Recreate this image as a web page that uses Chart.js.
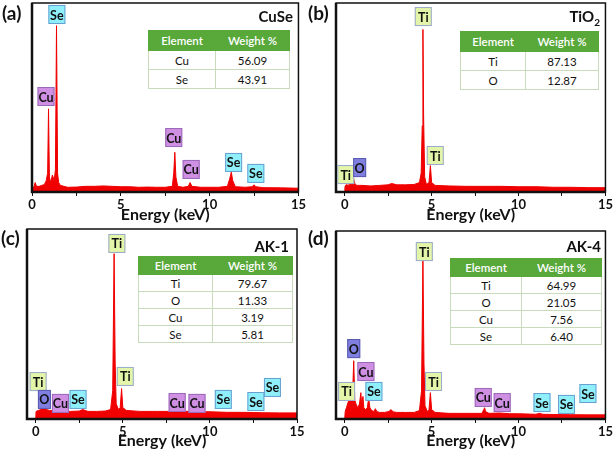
<!DOCTYPE html>
<html>
<head>
<meta charset="utf-8">
<script src="https://cdn.jsdelivr.net/npm/chart.js@4.4.1/dist/chart.umd.min.js"></script>
<style>
  body { margin: 0; width: 614px; height: 451px; overflow: hidden; background: #fff; font-family: Lato, "Open Sans", sans-serif; position: relative; }
  .panel { position: absolute; }
  .letter { position: absolute; font-weight: bold; font-size: 19px; color: #111; }
  .sample { position: absolute; font-weight: bold; font-size: 15px; color: #111; text-align: right; }
  .sample sub { font-size: 10px; }
  table.wt { position: absolute; border-collapse: collapse; font-size: 11.5px; color: #111; background: #fff; }
  table.wt td, table.wt th { border: 1px solid #c8dbbd; text-align: center; padding: 0; }
  table.wt th { background: #58a83a; color: #fff; font-weight: 600; border-color: #58a83a; }
</style>
</head>
<body>
<canvas id="ca" class="panel" width="307" height="225" style="left:0;top:0"></canvas>
<canvas id="cb" class="panel" width="307" height="225" style="left:307px;top:0"></canvas>
<canvas id="cc" class="panel" width="307" height="226" style="left:0;top:225px"></canvas>
<canvas id="cd" class="panel" width="307" height="226" style="left:307px;top:225px"></canvas>
<div id="overlay"></div>
<script>
// EDS spectra: energy (keV) and relative counts (% of plot height)
const energyA = [0, 0.1, 0.18, 0.25, 0.4, 0.55, 0.7, 0.8, 0.88, 0.93, 0.98, 1.05, 1.15, 1.25, 1.32, 1.38, 1.44, 1.5, 1.6, 1.8, 2.0, 2.5, 3.0, 3.5, 4.0, 4.5, 5.0, 5.5, 6.0, 6.5, 7.0, 7.5, 7.9, 7.98, 8.04, 8.1, 8.2, 8.5, 8.8, 8.9, 9.0, 9.5, 10, 10.5, 11.0, 11.13, 11.22, 11.3, 11.45, 12.0, 12.4, 12.5, 12.6, 13, 14, 15];
const countsA = [2, 2.5, 5, 3, 3, 3.5, 4, 6, 10, 44, 8, 5, 9, 6, 12, 88, 10, 5, 3.5, 3, 2.5, 2.6, 3, 3, 3.2, 3, 2.8, 2.8, 2.5, 2.6, 2.5, 2.5, 3, 10, 21, 8, 3, 2.5, 3, 5, 3, 2.5, 2.5, 2.5, 3, 7, 10.5, 6, 2.8, 2.5, 2.8, 3.8, 2.8, 2.3, 2.2, 2];

const energyB = [0, 0.02, 0.1, 0.2, 0.3, 0.4, 0.45, 0.52, 0.58, 0.7, 1.0, 1.5, 2.0, 2.5, 2.7, 3.0, 3.5, 4.0, 4.3, 4.4, 4.46, 4.5, 4.54, 4.6, 4.7, 4.85, 4.93, 5.0, 5.2, 6, 7, 8, 9, 10, 11, 12, 13, 14, 15];
const countsB = [0, 3, 4, 3.5, 4.5, 5, 5.5, 7, 4.5, 3.5, 3.5, 3.2, 3.5, 3.8, 4.5, 3.8, 3.8, 4, 5, 10, 35, 86, 40, 8, 4, 5, 14, 5, 3.5, 3.2, 3, 3, 3, 2.8, 2.8, 2.5, 2.5, 2.3, 2.3];

const energyC = [0, 0.02, 0.15, 0.3, 0.45, 0.52, 0.6, 0.8, 1.0, 1.5, 2.0, 2.5, 2.7, 3.0, 3.5, 4.0, 4.3, 4.42, 4.5, 4.56, 4.62, 4.75, 4.85, 4.93, 5.0, 5.2, 6, 7, 8, 8.05, 9, 10, 11, 12, 13, 14, 15];
const countsC = [0, 4, 4.5, 5, 5.5, 7, 5, 4.5, 4.5, 4, 4, 4.2, 5, 4, 4, 4.2, 5, 15, 87, 30, 8, 5, 6, 16, 6, 4.5, 4, 4, 4, 4.5, 3.8, 3.8, 3.5, 3.5, 3.3, 3.2, 3.2];

const energyD = [0, 0.03, 0.1, 0.2, 0.3, 0.4, 0.45, 0.52, 0.58, 0.65, 0.75, 0.85, 0.93, 0.98, 1.05, 1.1, 1.2, 1.3, 1.38, 1.45, 1.55, 1.7, 1.76, 1.85, 2.0, 2.3, 2.55, 2.65, 2.8, 3.0, 3.5, 4.0, 4.3, 4.42, 4.5, 4.56, 4.62, 4.75, 4.85, 4.93, 5.0, 5.2, 6, 7, 7.9, 8.0, 8.05, 8.1, 8.3, 8.9, 9.5, 10, 11, 11.2, 11.4, 12, 13, 14, 15];
const countsD = [0, 4, 6, 9, 11, 10, 12, 31, 10, 8, 6, 8, 14, 7, 12, 6, 5, 6, 11, 6, 4.5, 4, 5.5, 4, 3.5, 3.5, 4, 5, 3.8, 3.5, 3.5, 3.5, 4.5, 15, 85, 30, 7, 4, 5, 14, 5, 3.5, 3, 3, 3, 5, 6, 4, 3, 3.2, 2.8, 2.8, 2.5, 3, 2.5, 2.4, 2.3, 2.2, 2.2];

// peak tags: [element, energy at box centre, level of box bottom]
const tagsA = [['Se', 1.40, 88.9], ['Cu', 0.79, 45.5], ['Cu', 7.98, 23.8], ['Cu', 8.96, 6.9], ['Se', 11.35, 10.6], ['Se', 12.6, 4.8]];
const tagsB = [['Ti', 4.52, 87.8], ['Ti', 5.21, 14.3], ['Ti', 0.06, 4.2], ['O', 0.86, 7.9]];
const tagsC = [['Ti', 4.66, 87.4], ['Ti', 5.14, 17.4], ['Ti', 0.14, 14.7], ['O', 0.5, 5.3], ['Cu', 1.42, 3.2], ['Se', 2.43, 5.3], ['Cu', 8.12, 3.7], ['Cu', 9.26, 3.2], ['Se', 10.77, 5.3], ['Se', 12.64, 4.2], ['Se', 13.59, 11.6]];
const tagsD = [['Ti', 4.58, 84.0], ['Ti', 5.11, 14.9], ['Ti', 0.11, 9.6], ['O', 0.52, 32.4], ['Cu', 1.22, 20.2], ['Se', 1.68, 9.6], ['Cu', 7.97, 6.4], ['Cu', 9.06, 3.7], ['Se', 11.35, 3.7], ['Se', 12.76, 2.7], ['Se', 13.99, 8.5]];

// composition tables
const elementsA = ['Cu', 'Se'];
const weightA = ['56.09', '43.91'];
const elementsB = ['Ti', 'O'];
const weightB = ['87.13', '12.87'];
const elementsC = ['Ti', 'O', 'Cu', 'Se'];
const weightC = ['79.67', '11.33', '3.19', '5.81'];
const elementsD = ['Ti', 'O', 'Cu', 'Se'];
const weightD = ['64.99', '21.05', '7.56', '6.40'];

const xTicks = [0, 5, 10, 15];

const tagColors = {
  Cu: ['#cf8fe3', '#9a6ab8'],
  Se: ['#8ff0fb', '#6a9fd0'],
  Ti: ['#e3f5a9', '#9aa8cf'],
  O: ['#7f7fe0', '#5b5bb0']
};

const FONT = 'Lato, "Open Sans", sans-serif';

const framePlugin = {
  id: 'frame',
  afterDatasetsDraw(chart) {
    const { ctx, chartArea: a } = chart;
    ctx.save();
    ctx.strokeStyle = '#111';
    ctx.lineWidth = 1.5;
    ctx.strokeRect(a.left, a.top, a.right - a.left, a.bottom - a.top);
    ctx.lineWidth = 2.5;
    ctx.beginPath();
    ctx.moveTo(a.left, a.top);
    ctx.lineTo(a.left, a.bottom);
    ctx.lineTo(a.right, a.bottom);
    ctx.stroke();
    ctx.restore();
  }
};

const tagPlugin = {
  id: 'tags',
  afterDraw(chart, args, opts) {
    const { ctx } = chart;
    const xs = chart.scales.x, ys = chart.scales.y;
    ctx.save();
    ctx.font = 'bold 12.5px ' + FONT;
    ctx.textAlign = 'center';
    ctx.textBaseline = 'middle';
    opts.items.forEach(([el, e, h]) => {
      const cx = xs.getPixelForValue(e);
      const by = ys.getPixelForValue(h);
      const w = el === 'O' ? 13 : 17, bh = 19;
      const c = tagColors[el];
      ctx.fillStyle = c[0];
      ctx.fillRect(cx - w / 2, by - bh, w, bh);
      ctx.strokeStyle = c[1];
      ctx.lineWidth = 1;
      ctx.strokeRect(cx - w / 2 + 0.5, by - bh + 0.5, w - 1, bh - 1);
      ctx.fillStyle = '#111';
      ctx.fillText(el, cx, by - bh / 2 + 1);
    });
    ctx.restore();
  }
};

function makeChart(id, energy, counts, tags, cfg) {
  new Chart(document.getElementById(id), {
    type: 'line',
    data: {
      datasets: [{
        data: energy.map((e, i) => ({ x: e, y: counts[i] })),
        borderColor: '#f00000',
        backgroundColor: '#f00000',
        borderWidth: 1,
        pointRadius: 0,
        tension: 0,
        fill: 'origin'
      }]
    },
    options: {
      responsive: false,
      animation: false,
      devicePixelRatio: 1,
      layout: { padding: { left: cfg.padL, right: cfg.padR, top: cfg.padT, bottom: 0 } },
      plugins: {
        legend: { display: false },
        tooltip: { enabled: false },
        tags: { items: tags }
      },
      scales: {
        x: {
          type: 'linear',
          min: cfg.xmin,
          max: 15,
          afterFit(scale) { scale.height = cfg.axisH; },
          border: { display: false },
          grid: { drawOnChartArea: false, drawTicks: true, tickLength: 4, color: '#111' },
          ticks: {
            stepSize: 2.5,
            includeBounds: false,
            autoSkip: false,
            maxRotation: 0,
            padding: 1,
            color: '#111',
            font: { family: FONT, size: 13, weight: 'bold' },
            callback: v => xTicks.includes(v) ? v : ''
          },
          title: {
            display: true,
            text: 'Energy (keV)',
            color: '#111',
            font: { family: FONT, size: 16, weight: 'bold' },
            padding: { top: 0, bottom: 1 }
          }
        },
        y: { display: false, min: 0, max: 100 }
      }
    },
    plugins: [framePlugin, tagPlugin]
  });
}

makeChart('ca', energyA, countsA, tagsA, { padL: 32, padR: 8, padT: 3, axisH: 33, xmin: 0 });
makeChart('cb', energyB, countsB, tagsB, { padL: 29, padR: 8, padT: 3, axisH: 33, xmin: -0.5 });
makeChart('cc', energyC, countsC, tagsC, { padL: 27, padR: 10, padT: 4, axisH: 32, xmin: -0.5 });
makeChart('cd', energyD, countsD, tagsD, { padL: 29, padR: 8, padT: 6, axisH: 32, xmin: -0.5 });

// overlays: panel letters, sample names, composition tables
const overlay = document.getElementById('overlay');
function addText(cls, html, style) {
  const d = document.createElement('div');
  d.className = cls;
  d.innerHTML = html;
  d.style.cssText = style;
  overlay.appendChild(d);
}
function addTable(els, wts, left, top, c1, c2, headH, rowH) {
  const t = document.createElement('table');
  t.className = 'wt';
  t.style.left = left + 'px';
  t.style.top = top + 'px';
  let html = '<tr style="height:' + headH + 'px"><th style="width:' + c1 + 'px">Element</th><th style="width:' + c2 + 'px">Weight %</th></tr>';
  els.forEach((el, i) => {
    html += '<tr style="height:' + rowH + 'px"><td>' + el + '</td><td>' + wts[i] + '</td></tr>';
  });
  t.innerHTML = html;
  overlay.appendChild(t);
}

addText('letter', '(a)', 'left:2px;top:1px');
addText('letter', '(b)', 'left:308px;top:1px');
addText('letter', '(c)', 'left:1px;top:226px');
addText('letter', '(d)', 'left:308px;top:226px');

addText('sample', 'CuSe', 'right:' + (614 - 293) + 'px;top:7px');
addText('sample', 'TiO<sub>2</sub>', 'right:' + (614 - 600) + 'px;top:7px');
addText('sample', 'AK-1', 'right:' + (614 - 289) + 'px;top:237px');
addText('sample', 'AK-4', 'right:' + (614 - 601) + 'px;top:237px');

addTable(elementsA, weightA, 148, 30, 66, 73, 20, 19);
addTable(elementsB, weightB, 460, 31, 64, 72, 20, 19);
addTable(elementsC, weightC, 138, 256, 73, 79, 18, 17);
addTable(elementsD, weightD, 450, 258, 70, 79, 18, 17);
</script>
</body>
</html>
